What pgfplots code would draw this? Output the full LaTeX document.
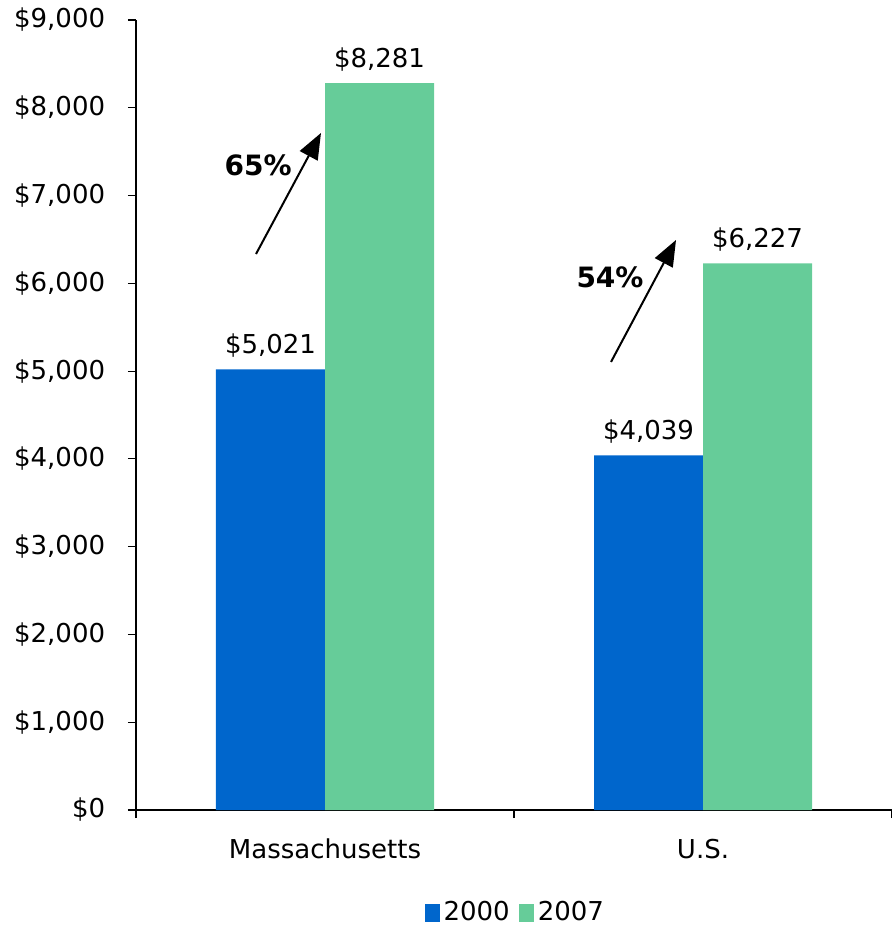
\documentclass[border=0pt]{standalone}
\usepackage{pgfplots}
\pgfplotsset{compat=1.18}
\usepackage{fontspec}
\setmainfont{DejaVu Sans}
\usetikzlibrary{arrows.meta}
\definecolor{cblue}{HTML}{0066CC}
\definecolor{cgreen}{HTML}{66CC99}
\begin{document}
\fontsize{26}{31}\selectfont
\begin{tikzpicture}
\useasboundingbox (-136pt,-117pt) rectangle (756pt,810pt);
\begin{axis}[
  at={(0,0)}, anchor=south west,
  scale only axis, width=756pt, height=790pt,
  ymin=0, ymax=9000, xmin=-0.5, xmax=1.5,
  ybar=0pt, bar width=109pt,
  axis lines*=left,
  axis line style={line width=1.2pt, black},
  ytick={0,1000,...,9000},
  yticklabel={\$\pgfmathprintnumber{\tick}},
  yticklabel style={xshift=-14pt},
  xtick={-0.5,0.5,1.5}, xticklabels={},
  extra x ticks={0,1}, extra x tick labels={Massachusetts,U.S.},
  extra x tick style={major tick length=0pt, xticklabel style={yshift=-20pt}},
  tick align=outside, major tick length=8pt,
  tick style={line width=1.2pt, black},
  nodes near coords={\$\pgfmathprintnumber{\pgfplotspointmeta}},
  nodes near coords style={yshift=3pt},
  legend style={at={(0.503,-0.13)}, anchor=center, draw=none, fill=none,
    legend columns=2, /tikz/every even column/.append style={column sep=5pt},
    nodes={inner sep=4pt}},
  legend image code/.code={\fill[#1] (0pt,-9pt) rectangle (15pt,9pt);},
  /pgf/number format/1000 sep={,},
  /pgf/number format/assume math mode=true,
]
\addplot[fill=cblue, draw=none] coordinates {(0,5021) (1,4039)};
\addplot[fill=cgreen, draw=none] coordinates {(0,8281) (1,6227)};
\legend{2000,2007}
\draw[line width=2pt, -{Triangle[length=26pt,width=20pt]}] (axis cs:-0.1825,6334) -- (axis cs:-0.0106,7713);
\draw[line width=2pt, -{Triangle[length=26pt,width=20pt]}] (axis cs:0.7566,5104) -- (axis cs:0.9286,6494);
\node[font=\fontsize{28}{33}\selectfont\bfseries] at (axis cs:-0.177,7348) {65\%};
\node[font=\fontsize{28}{33}\selectfont\bfseries] at (axis cs:0.754,6072) {54\%};
\end{axis}
\end{tikzpicture}
\end{document}
